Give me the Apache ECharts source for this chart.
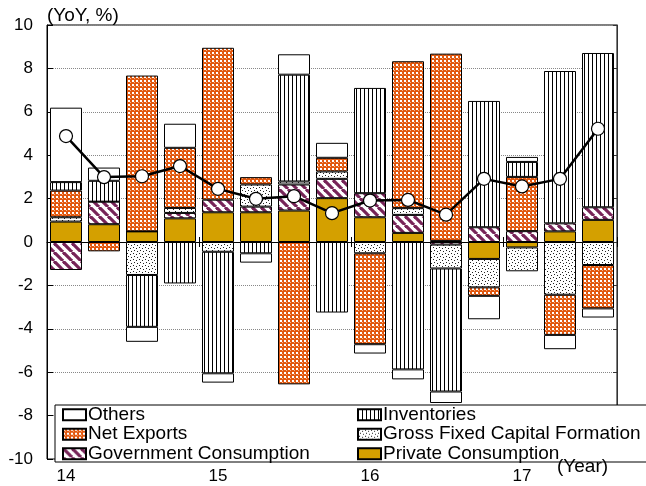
<!DOCTYPE html>
<html><head><meta charset="utf-8">
<script src="https://cdn.jsdelivr.net/npm/echarts@6/dist/echarts.min.js"></script>
<style>html,body{margin:0;padding:0;background:#fff}#c{width:646px;height:486px}</style>
</head><body><div id="c"></div>
<script>
var categories = ['14Q1','14Q2','14Q3','14Q4','15Q1','15Q2','15Q3','15Q4','16Q1','16Q2','16Q3','16Q4','17Q1','17Q2','17Q3'];
var yearLabels = ['14','','','','15','','','','16','','','','17','',''];
var privateConsumption = [0.94, 0.82, 0.49, 1.09, 1.37, 1.37, 1.45, 2.02, 1.14, 0.42, 0.05, -0.78, -0.25, 0.49, 1.02];
var governmentConsumption = [-1.29, 1.04, 0, 0.25, 0.58, 0.26, 1.2, 0.89, 1.11, 0.83, -0.12, 0.68, 0.5, 0.37, 0.58];
var grossFixedCapital = [0.2, 0, -1.52, 0.23, -0.45, 1.02, 0.14, 0.34, -0.52, 0.31, -1.1, -1.31, -1.1, -2.43, -1.06];
var netExports = [1.23, -0.43, 7.18, 2.77, 7.0, 0.34, -6.56, 0.63, -4.19, 6.77, 8.63, -0.39, 2.5, -1.85, -2.0];
var inventories = [0.39, 0.96, -2.39, -1.91, -5.6, -0.52, 4.92, -3.25, 4.85, -5.87, -5.67, 5.82, 0.69, 7.02, 7.11];
var others = [3.43, 0.61, -0.69, 1.11, -0.43, -0.43, 0.94, 0.69, -0.43, -0.46, -0.53, -1.08, 0.23, -0.66, -0.42];
var gdpGrowth = [4.88, 2.99, 3.03, 3.5, 2.45, 1.99, 2.11, 1.33, 1.91, 1.94, 1.26, 2.91, 2.56, 2.91, 5.22];

function mk(w, h, draw) { var c = document.createElement('canvas'); c.width = w; c.height = h; var g = c.getContext('2d'); draw(g); return {image: c, repeat: 'repeat'}; }
var patNX = mk(4, 4, function (g) { g.fillStyle = '#E2580F'; g.fillRect(0,0,4,4); g.fillStyle = '#fff'; g.fillRect(0,0,2,2); g.fillStyle = '#F4B48A'; g.fillRect(2,2,1,1); });
var patINV = mk(4, 4, function (g) { g.fillStyle = '#fff'; g.fillRect(0,0,4,4); g.fillStyle = '#000'; g.fillRect(0,0,1,4); });
var patGFCF = mk(6, 6, function (g) { g.fillStyle = '#fff'; g.fillRect(0,0,6,6); g.fillStyle = '#222'; g.fillRect(1,1,1,1); g.fillRect(4,2,1,1); g.fillRect(2,4,1,1); g.fillRect(5,5,1,1); });
var patGOV = mk(9, 9, function (g) { g.fillStyle = '#fff'; g.fillRect(0,0,9,9); g.strokeStyle = '#772458'; g.lineWidth = 3.2;
  [-9, 0, 9].forEach(function (k) { g.beginPath(); g.moveTo(k, 0); g.lineTo(k + 9, 9); g.stroke(); }); });

var FONT = 'Liberation Sans, Arial, sans-serif';
function barSeries(name, data, color) {
  return { name: name, type: 'bar', stack: 'total', data: data, barWidth: 32, xAxisIndex: 0,
    itemStyle: { color: color, borderColor: '#000', borderWidth: 1 }, emphasis: { disabled: true } };
}
var chart = echarts.init(document.getElementById('c'), null, {renderer: 'canvas'});
var legendCommon = { orient: 'vertical', top: 405, itemWidth: 23, itemHeight: 11, itemGap: 0, padding: 0, icon: 'rect', selectedMode: false, z: 20,
  textStyle: { fontFamily: FONT, fontSize: 19, color: '#000', lineHeight: 19.5, padding: [0, 0, 0, -3] } };
chart.setOption({
  animation: false,
  textStyle: { fontFamily: FONT },
  grid: { left: 47, right: 29, top: 25, bottom: 27, show: true, borderColor: '#000', borderWidth: 1 },
  legend: [
    Object.assign({ left: 62, data: ['Others', 'Net Exports', 'Government Consumption'] }, legendCommon),
    Object.assign({ left: 357, data: ['Inventories', 'Gross Fixed Capital Formation', 'Private Consumption'] }, legendCommon)
  ],
  graphic: [
    { type: 'rect', shape: { x: 55, y: 405, width: 600, height: 57 }, style: { fill: '#fff', stroke: '#000', lineWidth: 1 }, z: 10 },
    { type: 'text', left: 47, top: 6, style: { text: '(YoY, %)', font: '19px ' + FONT, fill: '#000' }, z: 10 },
    { type: 'text', left: 557, top: 457, style: { text: '(Year)', font: '19px ' + FONT, fill: '#000' }, z: 11 }
  ],
  xAxis: [
    { type: 'category', data: categories, position: 'bottom', axisLine: { show: false, onZero: false }, axisTick: { show: false },
      axisLabel: { interval: 0, margin: 9, fontSize: 17, color: '#000', formatter: function (v, i) { return yearLabels[i]; } } },
    { type: 'category', data: categories, position: 'bottom', axisLine: { show: true, onZero: true, lineStyle: { color: '#000', width: 1 } },
      axisTick: { show: true, length: 5, interval: function (i) { return i % 4 === 0 && i > 0; }, lineStyle: { color: '#000' } }, axisLabel: { show: false } },
    { type: 'category', data: categories, position: 'bottom', axisLine: { show: false, onZero: true },
      axisTick: { show: true, inside: true, length: 5, interval: function (i) { return i % 4 === 0 && i > 0; }, lineStyle: { color: '#000' } }, axisLabel: { show: false } }
  ],
  yAxis: [
    { type: 'value', min: -10, max: 10, interval: 2, position: 'left',
      axisLine: { show: true, lineStyle: { color: '#000' } }, axisTick: { show: true, inside: true, length: 6, lineStyle: { color: '#000' } },
      axisLabel: { fontSize: 17, color: '#000', margin: 14 },
      splitLine: { show: true, lineStyle: { color: '#888', type: 'dotted', width: 1 } } },
    { type: 'value', min: -10, max: 10, interval: 2, position: 'right',
      axisLine: { show: true, lineStyle: { color: '#333' } }, axisTick: { show: true, inside: true, length: 4, lineStyle: { color: '#333' } },
      axisLabel: { show: false }, splitLine: { show: false } }
  ],
  series: [
    barSeries('Private Consumption', privateConsumption, '#D4A000'),
    barSeries('Government Consumption', governmentConsumption, patGOV),
    barSeries('Gross Fixed Capital Formation', grossFixedCapital, patGFCF),
    barSeries('Net Exports', netExports, patNX),
    barSeries('Inventories', inventories, patINV),
    barSeries('Others', others, '#fff'),
    { name: 'Real GDP', type: 'line', data: gdpGrowth, xAxisIndex: 0, z: 5, symbol: 'circle', symbolSize: 13,
      lineStyle: { color: '#000', width: 2.5 }, itemStyle: { color: '#fff', borderColor: '#000', borderWidth: 1.2 }, emphasis: { disabled: true } }
  ]
});
</script></body></html>
